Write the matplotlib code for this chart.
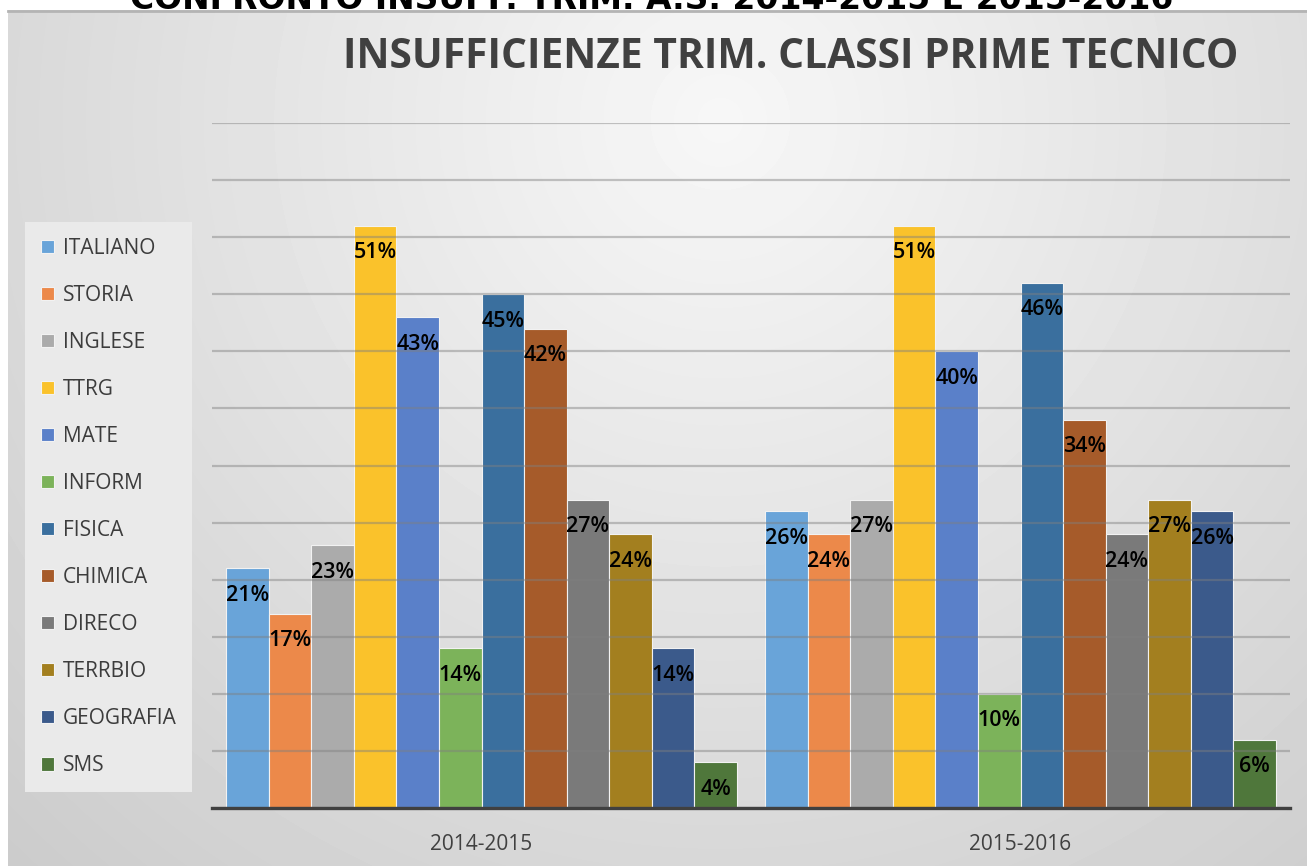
import numpy as np
import matplotlib
matplotlib.use('Agg')
import matplotlib.pyplot as plt
from matplotlib import font_manager as fm

# ---------------- data ----------------
years = ['2014-2015', '2015-2016']
subjects = ['ITALIANO', 'STORIA', 'INGLESE', 'TTRG', 'MATE', 'INFORM',
            'FISICA', 'CHIMICA', 'DIRECO', 'TERRBIO', 'GEOGRAFIA', 'SMS']
vals_1415 = [21, 17, 23, 51, 43, 14, 45, 42, 27, 24, 14, 4]
vals_1516 = [26, 24, 27, 51, 40, 10, 46, 34, 24, 27, 26, 6]
colors = ['#69a4d9', '#ec894a', '#ababab', '#fac22b', '#5a80c9', '#7cb35a',
          '#3a6f9e', '#a65b2a', '#7a7a7a', '#a37f1f', '#3b5a8b', '#4f773b']
title = 'INSUFFICIENZE TRIM. CLASSI PRIME TECNICO'
top_title = 'CONFRONTO INSUFF. TRIM. A.S. 2014-2015 E 2015-2016'
yticks = np.arange(0, 61, 5)

names = {f.name for f in fm.fontManager.ttflist}
body_font = 'Open Sans' if 'Open Sans' in names else 'DejaVu Sans'
narrow_font = 'Liberation Sans Narrow' if 'Liberation Sans Narrow' in names else body_font

W, H = 1307, 866
fig = plt.figure(figsize=(W / 100, H / 100), dpi=100, facecolor='white')

# background gradient
bg = fig.add_axes([0, 0, 1, 1])
yy, xx = np.mgrid[10:H, 8:W]
r = np.sqrt(((xx - 720) / 850.0) ** 2 + ((yy - 120) / 850.0) ** 2)
v = np.clip(247 - 36 * r ** 1.0, 0, 255) / 255.0
bg.imshow(v, cmap='gray', vmin=0, vmax=1, extent=(8, W, H, 10),
          aspect='auto', interpolation='bilinear')
bg.plot([8, W], [10.5, 10.5], color='#b4b4b4', lw=2)
bg.set_xlim(0, W)
bg.set_ylim(H, 0)
bg.axis('off')

# main axes
ax = fig.add_axes([212 / W, (H - 808) / H, (1290 - 212) / W, (808 - 123) / H])
ax.patch.set_alpha(0)
x = np.arange(len(years))
w = 0.079
handles = []
for i, s in enumerate(subjects):
    vals = [vals_1415[i], vals_1516[i]]
    bars = ax.bar(x + (i - 5.5) * w, vals, w, color=colors[i],
                  edgecolor='#f2f2f2', linewidth=0.8, label=s, zorder=1)
    handles.append(bars)
    for b, val in zip(bars, vals):
        ax.annotate(f'{val}%', (b.get_x() + b.get_width() / 2, val),
                    xytext=(0, -19.5), textcoords='offset points',
                    ha='center', va='center', fontsize=15.5,
                    family=body_font, weight='semibold', color='black', zorder=5)

ax.set_xlim(-0.5, 1.5)
ax.set_ylim(0, 60)
ax.set_yticks(yticks)
ax.set_axisbelow(False)
ax.yaxis.grid(True, color='#7f7f7f', alpha=0.45, lw=1.6)
ax.tick_params(axis='y', left=False, labelleft=False)
ax.set_xticks(x)
ax.set_xticklabels(years, fontsize=15, color='#404040', family=body_font)
ax.tick_params(axis='x', length=0, pad=19)
for sp in ['left', 'right', 'top']:
    ax.spines[sp].set_visible(False)
ax.spines['bottom'].set_color('#404040')
ax.spines['bottom'].set_linewidth(2.4)
ax.spines['bottom'].set_zorder(4)

leg = ax.legend(handles, subjects, loc='upper left',
                bbox_to_anchor=(25 / W, 1 - 222 / H), bbox_transform=fig.transFigure,
                labelspacing=1.25, handlelength=0.62, handleheight=0.62,
                handletextpad=0.45, borderpad=0.75, borderaxespad=0,
                frameon=True, fancybox=False, facecolor='#eaeaea',
                edgecolor='none', framealpha=1, labelcolor='#3c3c3c',
                prop={'family': body_font, 'size': 15})

# titles
t1 = fig.text(343 / W, 1 - 68 / H, title, ha='left', va='baseline',
              fontsize=30, weight='bold', color='#404040', family=narrow_font)
t2 = fig.text(130 / W, 1 - 9 / H, top_title, ha='left', va='baseline',
              fontsize=30, weight='bold', color='black', family='DejaVu Sans')
fig.canvas.draw()
for t, target in ((t1, 894), (t2, 1045)):
    bb = t.get_window_extent()
    t.set_fontsize(t.get_fontsize() * target / bb.width)

fig.savefig('out.png', dpi=100, facecolor='white')
